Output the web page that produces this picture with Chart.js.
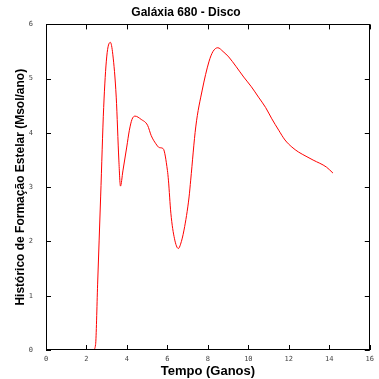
<!DOCTYPE html>
<html>
<head>
<meta charset="utf-8">
<script src="https://cdn.jsdelivr.net/npm/chart.js@4"></script>
<style>
  html, body { margin: 0; padding: 0; background: #fff; }
</style>
</head>
<body>
<canvas id="sfr" width="379" height="379"></canvas>
<script>
const tempo = [2.35, 2.45, 2.55, 2.7, 2.85, 3.0, 3.18, 3.3, 3.47, 3.6, 3.68, 3.8, 3.99, 4.12, 4.25, 4.4,
  4.7, 5.02, 5.2, 5.43, 5.6, 5.79, 6.0, 6.05, 6.17, 6.35, 6.54, 6.65, 6.82, 7.07, 7.15, 7.4, 7.72,
  8.05, 8.25, 8.49, 8.75, 9.03, 9.4, 9.77, 10.15, 10.5, 10.85, 11.16, 11.5, 11.81, 12.15, 12.47,
  12.85, 13.2, 13.86, 14.18];
const sfr = [0, 0.1, 1.2, 2.82, 4.47, 5.4, 5.67, 5.45, 4.66, 3.5, 3.02, 3.3, 3.74, 4.05, 4.25, 4.31,
  4.25, 4.14, 3.95, 3.8, 3.73, 3.71, 3.31, 3.13, 2.52, 2.05, 1.87, 1.95, 2.21, 2.82, 3.13, 4.11, 4.79,
  5.31, 5.5, 5.57, 5.5, 5.4, 5.22, 5.03, 4.85, 4.66, 4.47, 4.26, 4.05, 3.87, 3.74, 3.65,
  3.57, 3.5, 3.37, 3.26];

const titulo = 'Galáxia 680 - Disco';
const tituloX = 'Tempo (Ganos)';
const tituloY = 'Histórico de Formação Estelar (Msol/ano)';

// box around plot + inward tick marks on all four sides
const boxTicks = {
  id: 'boxTicks',
  afterDraw(chart) {
    const { ctx, chartArea: a, scales } = chart;
    const len = 5;
    ctx.save();
    ctx.strokeStyle = '#000';
    ctx.lineWidth = 1;
    ctx.strokeRect(Math.round(a.left) + 0.5, Math.round(a.top) + 0.5,
      Math.round(a.right - a.left) - 1, Math.round(a.bottom - a.top) - 1);
    ctx.beginPath();
    scales.x.ticks.forEach((t) => {
      const px = Math.round(scales.x.getPixelForValue(t.value)) + 0.5;
      ctx.moveTo(px, a.bottom); ctx.lineTo(px, a.bottom - len);
      ctx.moveTo(px, a.top); ctx.lineTo(px, a.top + len);
    });
    scales.y.ticks.forEach((t) => {
      const py = Math.round(scales.y.getPixelForValue(t.value)) + 0.5;
      ctx.moveTo(a.left, py); ctx.lineTo(a.left + len, py);
      ctx.moveTo(a.right, py); ctx.lineTo(a.right - len, py);
    });
    ctx.stroke();
    ctx.restore();
  },
};

const tickFont = { family: 'DejaVu Sans Mono', size: 7 };

new Chart(document.getElementById('sfr'), {
  type: 'line',
  data: {
    datasets: [{
      data: tempo.map((t, i) => ({ x: t, y: sfr[i] })),
      borderColor: '#ff0000',
      borderWidth: 1,
      pointRadius: 0,
      cubicInterpolationMode: 'monotone',
      fill: false,
    }],
  },
  options: {
    responsive: false,
    animation: false,
    layout: { padding: { right: 7, left: 0, top: 0, bottom: 0 } },
    plugins: {
      legend: { display: false },
      tooltip: { enabled: false },
      title: {
        display: true,
        text: titulo,
        color: '#000',
        font: { family: 'Liberation Sans', size: 12, weight: 'bold' },
        padding: { top: 5, bottom: 5 },
      },
    },
    scales: {
      x: {
        type: 'linear',
        min: 0,
        max: 16,
        grid: { display: false, drawTicks: false },
        border: { display: false },
        ticks: { stepSize: 2, color: '#444', font: tickFont, padding: 5, maxRotation: 0 },
        title: {
          display: true,
          text: tituloX,
          color: '#000',
          font: { family: 'Liberation Sans', size: 13, weight: 'bold' },
          padding: { top: 0, bottom: 0 },
        },
        afterFit: (s) => { s.height = 29; },
      },
      y: {
        min: 0,
        max: 6,
        grid: { display: false, drawTicks: false },
        border: { display: false },
        ticks: { stepSize: 1, color: '#444', font: tickFont, padding: 13 },
        title: {
          display: true,
          text: tituloY,
          color: '#000',
          font: { family: 'Liberation Sans', size: 12, weight: 'bold' },
          padding: { top: 13, bottom: 0 },
        },
        afterFit: (s) => { s.width = 46; },
      },
    },
  },
  plugins: [boxTicks],
});
</script>
</body>
</html>
